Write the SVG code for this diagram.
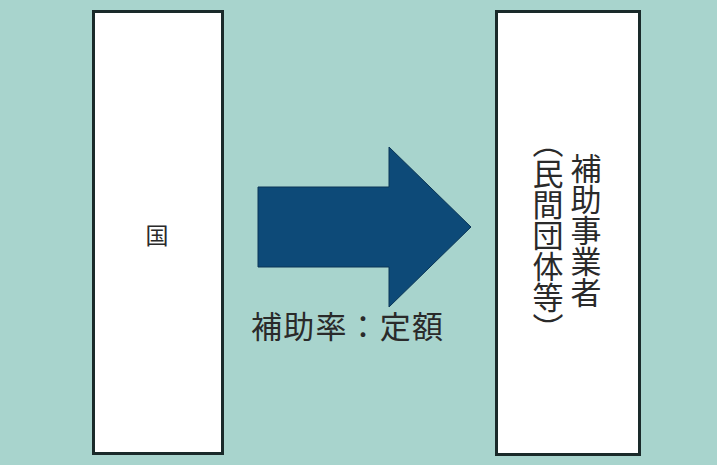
<svg xmlns="http://www.w3.org/2000/svg" width="717" height="465" viewBox="0 0 717 465">
<style>
.box{fill:#ffffff;stroke:#1a2a2a;stroke-width:3}
.t{font-family:"Noto Sans CJK JP","Noto Sans CJK SC",sans-serif;fill:#2a2a2a}
.v{writing-mode:vertical-rl;font-size:31px}
</style>
<rect x="0" y="0" width="717" height="465" fill="#a8d4cd"/>
<g id="kuni">
<rect class="box" x="93.5" y="11.5" width="129" height="442"/>
<text class="t" x="157" y="244" font-size="23" text-anchor="middle">国</text>
</g>
<g id="hojo">
<rect class="box" x="496.5" y="11.5" width="143" height="443"/>
<text class="t v" x="586" y="153">補助事業者</text>
<text class="t v" x="548" y="127">（民間団体等）</text>
</g>
<g id="connectors">
<polygon points="258,187 389,187 389,147 471,227 389,307 389,267 258,267" fill="#0d4a78" stroke="#0a3556" stroke-width="1"/>
<text class="t" x="251" y="338" font-size="31" textLength="192" lengthAdjust="spacing">補助率：定額</text>
</g>
</svg>
